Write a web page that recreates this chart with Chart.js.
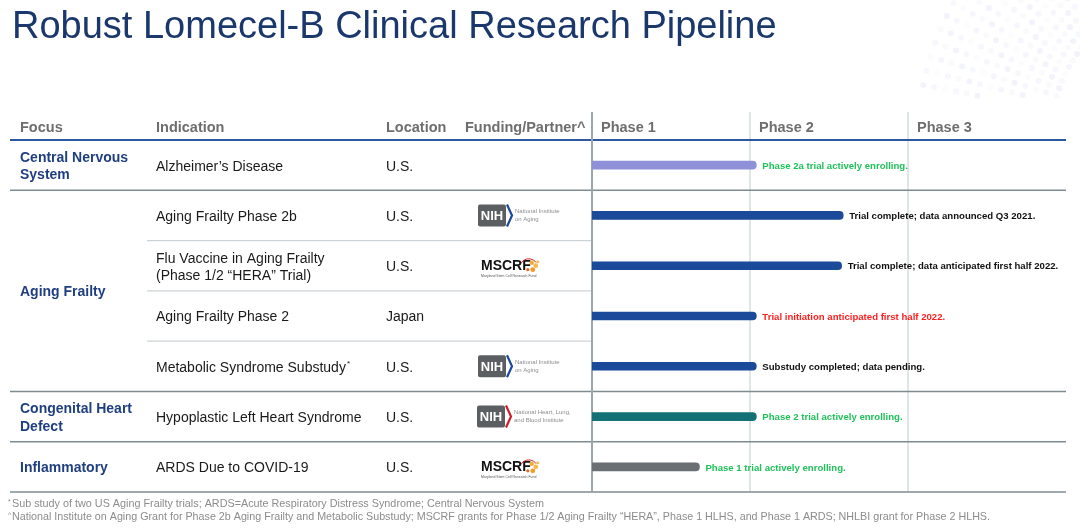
<!DOCTYPE html>
<html><head><meta charset="utf-8">
<script src="https://cdn.jsdelivr.net/npm/chart.js@4"></script>
<style>html,body{margin:0;padding:0;background:#fff;}canvas{display:block;}</style>
</head><body>
<canvas id="c" width="1080" height="529"></canvas>
<script>
// ---------- data ----------
const titleText = 'Robust Lomecel-B Clinical Research Pipeline';
const columnHeaders = ['Focus', 'Indication', 'Location', 'Funding/Partner^'];
const phaseLabels = ['Phase 1', 'Phase 2', 'Phase 3'];
const focusAreas = [['Central Nervous', 'System'], ['Aging Frailty'], ['Congenital Heart', 'Defect'], ['Inflammatory']];
const focusRowCounts = [1, 4, 1, 1];
const indications = [
  ['Alzheimer’s Disease'],
  ['Aging Frailty Phase 2b'],
  ['Flu Vaccine in Aging Frailty', '(Phase 1/2 “HERA” Trial)'],
  ['Aging Frailty Phase 2'],
  ['Metabolic Syndrome Substudy'],
  ['Hypoplastic Left Heart Syndrome'],
  ['ARDS Due to COVID-19']
];
const indicationMarks = ['', '', '', '', '*', '', ''];
const locations = ['U.S.', 'U.S.', 'U.S.', 'Japan', 'U.S.', 'U.S.', 'U.S.'];
const partners = ['', 'NIA', 'MSCRF', '', 'NIA', 'NHLBI', 'MSCRF'];
const progress = [1.04, 1.59, 1.58, 1.04, 1.04, 1.04, 0.68];   // in phases (0..3)
const statusNotes = [
  'Phase 2a trial actively enrolling.',
  'Trial complete; data announced Q3 2021.',
  'Trial complete; data anticipated first half 2022.',
  'Trial initiation anticipated first half 2022.',
  'Substudy completed; data pending.',
  'Phase 2 trial actively enrolling.',
  'Phase 1 trial actively enrolling.'
];
const statusKinds = ['enrolling', 'complete', 'complete', 'planned', 'complete', 'enrolling', 'enrolling'];
const footnotes = [
  ['*', 'Sub study of two US Aging Frailty trials; ARDS=Acute Respiratory Distress Syndrome; Central Nervous System'],
  ['^', 'National Institute on Aging Grant for Phase 2b Aging Frailty and Metabolic Substudy; MSCRF grants for Phase 1/2 Aging Frailty “HERA”, Phase 1 HLHS, and Phase 1 ARDS; NHLBI grant for Phase 2 HLHS.']
];

// ---------- styles ----------
const FONT = "'Liberation Sans', Arial, Helvetica, sans-serif";
const NAVY = '#1f3f80';
const barColors = ['#8e90d8', '#1b4a9b', '#1b4a9b', '#1b4a9b', '#1b4a9b', '#137175', '#6a6f74'];
const kindColors = { enrolling: '#1fc25a', complete: '#111111', planned: '#ff1f1f' };
const colX = [20, 156, 386, 465];
const TY = 1.5; // text vertical nudge

function drawNIH(ctx, x, cy, chevron, lines) {
  ctx.save();
  ctx.fillStyle = '#5c5f62';
  const w = 28, h = 22, r = 2;
  ctx.beginPath();
  ctx.roundRect(x, cy - h / 2, w, h, r);
  ctx.fill();
  ctx.fillStyle = '#fff';
  ctx.font = 'bold 13px ' + FONT;
  ctx.textAlign = 'center';
  ctx.textBaseline = 'middle';
  ctx.fillText('NIH', x + w / 2, cy + 1);
  ctx.strokeStyle = chevron;
  ctx.lineWidth = 2.2;
  ctx.beginPath();
  ctx.moveTo(x + w + 1, cy - h / 2);
  ctx.lineTo(x + w + 6, cy);
  ctx.lineTo(x + w + 1, cy + h / 2);
  ctx.stroke();
  ctx.fillStyle = '#8a8d90';
  ctx.font = '6px ' + FONT;
  ctx.textAlign = 'left';
  ctx.fillText(lines[0], x + w + 9, cy - 4);
  ctx.fillText(lines[1], x + w + 9, cy + 4);
  ctx.restore();
}
function drawMSCRF(ctx, x, cy) {
  ctx.save();
  ctx.fillStyle = '#111';
  ctx.font = 'bold 14px ' + FONT;
  ctx.textBaseline = 'middle';
  ctx.textAlign = 'left';
  ctx.fillText('MSCRF', x, cy);
  const w = ctx.measureText('MSCRF').width;
  ctx.strokeStyle = '#d9262c';
  ctx.lineWidth = 1;
  ctx.beginPath();
  ctx.arc(x + w - 2, cy + 2, 9, -2.6, -0.6);
  ctx.stroke();
  const dots = [[w + 1, -3, 2.2, '#f2a93b'], [w + 5, 0, 2.4, '#f6b94a'], [w + 2, 4, 2.4, '#f29a2e'], [w - 3, 4, 1.6, '#e36b2a'], [w + 7, -4, 1.5, '#f4c05a']];
  dots.forEach(d => { ctx.fillStyle = d[3]; ctx.beginPath(); ctx.arc(x + d[0], cy + d[1], d[2], 0, Math.PI * 2); ctx.fill(); });
  ctx.fillStyle = '#555';
  ctx.font = '3.5px ' + FONT;
  ctx.fillText('Maryland Stem Cell Research Fund', x, cy + 10);
  ctx.restore();
}
function fitText(ctx, text, x, y, width) {
  const m = ctx.measureText(text).width;
  ctx.save();
  ctx.translate(x, y);
  ctx.scale(width / m, 1);
  ctx.fillText(text, 0, 0);
  ctx.restore();
}

const tablePlugin = {
  id: 'tablePlugin',
  beforeDatasetsDraw(chart) {
    const ctx = chart.ctx;
    const xs = chart.scales.x, ys = chart.scales.y;
    const area = chart.chartArea;
    const n = indications.length;
    const band = (area.bottom - area.top) / n;
    const rowTop = i => ys.getPixelForValue(i) - band / 2;
    const left = 10, right = xs.getPixelForValue(3);

    // faint decorative dots (top right)
    ctx.save();
    for (let ring = 0; ring < 13; ring++) {
      const rad = 150 + ring * 11;
      for (let k = 0; k < 46; k++) {
        const ang = Math.PI * (0.98 + k * 0.0165);
        const px = 1200 + rad * Math.cos(ang), py = 140 + rad * Math.sin(ang);
        if (py > 96 || px < 905 || py < -4) continue;
        const a = 0.03 + ((ring * 7 + k * 3) % 5) * 0.022;
        ctx.fillStyle = 'rgba(150,165,225,' + a.toFixed(3) + ')';
        ctx.beginPath(); ctx.arc(px, py, 3, 0, Math.PI * 2); ctx.fill();
      }
    }
    ctx.restore();

    // title
    ctx.save();
    ctx.fillStyle = '#1b386c';
    ctx.font = '38px ' + FONT;
    ctx.textBaseline = 'alphabetic';
    ctx.fillText(titleText, 12, 38);
    ctx.restore();

    // phase vertical lines
    ctx.save();
    for (let p = 1; p <= 2; p++) {
      const px = xs.getPixelForValue(p);
      ctx.strokeStyle = '#d6dde0'; ctx.lineWidth = 1.5;
      ctx.beginPath(); ctx.moveTo(px, 112); ctx.lineTo(px, area.bottom); ctx.stroke();
    }
    let idx = 0;
    focusRowCounts.forEach(cnt => {
      for (let k = 1; k < cnt; k++) {
        const y = rowTop(idx + k);
        ctx.strokeStyle = '#ccd3d6'; ctx.lineWidth = 1.2;
        ctx.beginPath(); ctx.moveTo(147, y); ctx.lineTo(xs.getPixelForValue(0), y); ctx.stroke();
      }
      idx += cnt;
    });
    idx = 0;
    focusRowCounts.forEach(cnt => {
      idx += cnt;
      const y = rowTop(idx);
      ctx.strokeStyle = '#7f8b91'; ctx.lineWidth = 1.5;
      ctx.beginPath(); ctx.moveTo(left, y); ctx.lineTo(right, y); ctx.stroke();
    });
    ctx.strokeStyle = '#2b57a3'; ctx.lineWidth = 2;
    ctx.beginPath(); ctx.moveTo(left, area.top); ctx.lineTo(right, area.top); ctx.stroke();
    const p0 = xs.getPixelForValue(0);
    ctx.strokeStyle = '#9aa6ab'; ctx.lineWidth = 2;
    ctx.beginPath(); ctx.moveTo(p0, 112); ctx.lineTo(p0, area.bottom); ctx.stroke();
    ctx.restore();

    // headers
    ctx.save();
    ctx.fillStyle = '#6e6e6e';
    ctx.font = 'bold 14.5px ' + FONT;
    ctx.textBaseline = 'middle';
    columnHeaders.forEach((h, i) => ctx.fillText(h, colX[i], 126 + TY));
    phaseLabels.forEach((h, i) => ctx.fillText(h, xs.getPixelForValue(i) + 9, 126 + TY));
    ctx.restore();

    // focus areas
    ctx.save();
    ctx.fillStyle = NAVY;
    ctx.font = 'bold 14px ' + FONT;
    ctx.textBaseline = 'middle';
    idx = 0;
    focusAreas.forEach((lines, g) => {
      const cnt = focusRowCounts[g];
      const cy = (ys.getPixelForValue(idx) + ys.getPixelForValue(idx + cnt - 1)) / 2 + TY;
      const lh = 17.5;
      lines.forEach((t, j) => ctx.fillText(t, colX[0], cy + (j - (lines.length - 1) / 2) * lh));
      idx += cnt;
    });
    ctx.restore();

    // indications, locations, partners
    ctx.save();
    ctx.textBaseline = 'middle';
    for (let i = 0; i < n; i++) {
      const cy = ys.getPixelForValue(i);
      ctx.fillStyle = '#1a1a1a';
      ctx.font = '14px ' + FONT;
      const lines = indications[i];
      lines.forEach((t, j) => {
        const y = cy + TY + (j - (lines.length - 1) / 2) * 17;
        ctx.fillText(t, colX[1], y);
        if (indicationMarks[i] && j === lines.length - 1) {
          const w = ctx.measureText(t).width;
          ctx.font = '8px ' + FONT;
          ctx.fillText(indicationMarks[i], colX[1] + w + 1, y - 4);
          ctx.font = '14px ' + FONT;
        }
      });
      ctx.fillText(locations[i], colX[2], cy + TY);
      if (partners[i] === 'NIA') drawNIH(ctx, 478, cy, '#1b4a9b', ['National Institute', 'on Aging']);
      if (partners[i] === 'NHLBI') drawNIH(ctx, 477, cy, '#c8202a', ['National Heart, Lung,', 'and Blood Institute']);
      if (partners[i] === 'MSCRF') drawMSCRF(ctx, 481, cy);
    }
    ctx.restore();

    // footnotes
    ctx.save();
    ctx.fillStyle = '#8c8c8c';
    ctx.textBaseline = 'middle';
    const fw = [536, 982];
    footnotes.forEach((f, i) => {
      const y = 504 + i * 13;
      ctx.font = '7px ' + FONT;
      ctx.fillText(f[0], 8, y - 2);
      ctx.font = '10.5px ' + FONT;
      fitText(ctx, f[1], 12, y, fw[i] - 4);
    });
    ctx.restore();
  },
  afterDatasetsDraw(chart) {
    const ctx = chart.ctx;
    const meta = chart.getDatasetMeta(0);
    ctx.save();
    ctx.font = 'bold 9.6px ' + FONT;
    ctx.textBaseline = 'middle';
    meta.data.forEach((bar, i) => {
      ctx.fillStyle = kindColors[statusKinds[i]];
      ctx.fillText(statusNotes[i], bar.x + 6, bar.y + 1);
    });
    ctx.restore();
  }
};

new Chart(document.getElementById('c'), {
  type: 'bar',
  data: {
    labels: indications,
    datasets: [{
      data: progress,
      backgroundColor: barColors,
      barThickness: 8,
      borderRadius: 4.5,
      borderSkipped: 'start'
    }]
  },
  options: {
    indexAxis: 'y',
    responsive: false,
    animation: false,
    layout: { padding: { left: 592, right: 14, top: 140, bottom: 37 } },
    scales: {
      x: { min: 0, max: 3, display: false },
      y: { display: false }
    },
    plugins: { legend: { display: false }, tooltip: { enabled: false } }
  },
  plugins: [tablePlugin]
});
</script>
</body></html>
